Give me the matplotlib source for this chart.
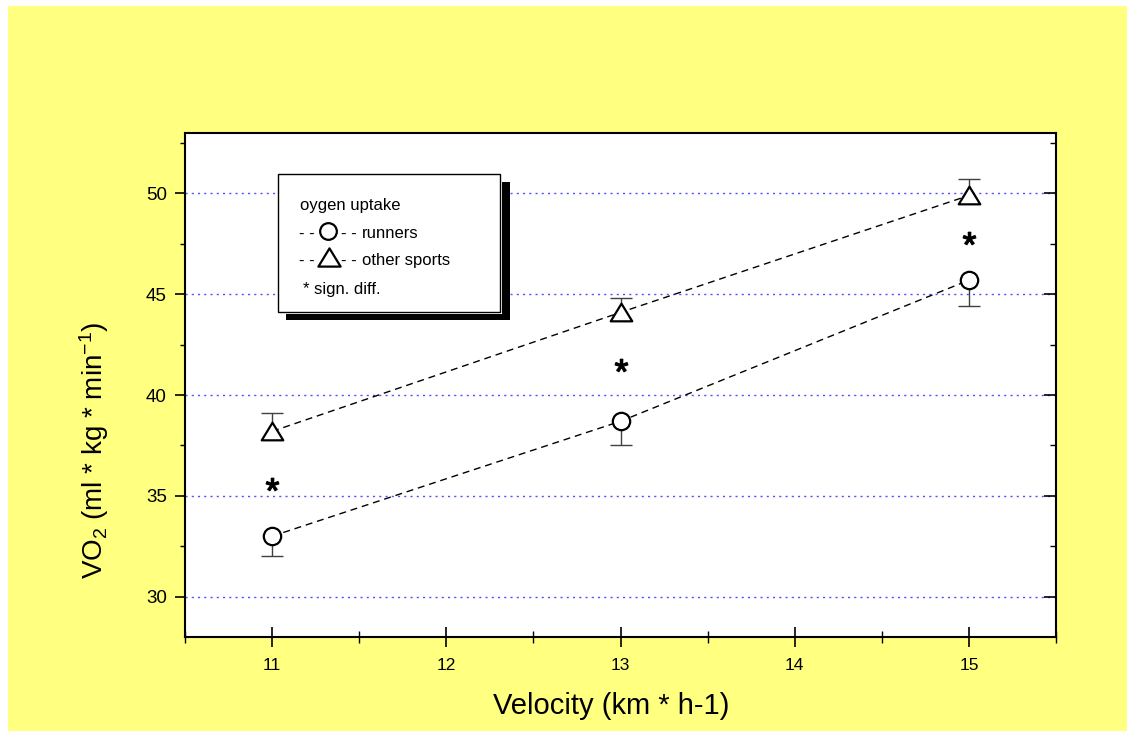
import matplotlib
matplotlib.use('Agg')
import matplotlib.pyplot as plt
from matplotlib.patches import Rectangle
from matplotlib.path import Path
from matplotlib.ticker import MultipleLocator

plt.rcParams['font.family'] = ['Liberation Sans', 'DejaVu Sans']
plt.rcParams['mathtext.fontset'] = 'custom'
plt.rcParams['mathtext.rm'] = 'Liberation Sans'
plt.rcParams['mathtext.it'] = 'Liberation Sans:italic'

# 摄氧量数据
velocity = [11, 13, 15]
runners = [33.0, 38.7, 45.7]
runners_err = [1.0, 1.2, 1.3]
others = [38.2, 44.1, 49.9]
others_err = [0.9, 0.7, 0.8]
sig_y = [35.6, 41.5, 47.8]

W, H = 1127, 731
yellow = '#FFFF80'
tri = Path([(-1, -0.82), (1, -0.82), (0, 0.82), (0, 0)], closed=True)


def fx(x):
    return x / W


def fy(y):
    return 1 - y / H


fig = plt.figure(figsize=(W / 100, H / 100), dpi=100, facecolor='white')
fig.patches.append(Rectangle((fx(8), 0), 1 - fx(8), fy(6), transform=fig.transFigure,
                             facecolor=yellow, edgecolor='none', zorder=-10))

ax = fig.add_axes([fx(185), fy(637), (1056 - 185) / W, (637 - 133) / H])
ax.set_facecolor('white')
ax.set_xlim(10.5, 15.5)
ax.set_ylim(28, 53)

# 水平网格线
for g in [30, 35, 40, 45, 50]:
    ax.axhline(g, color='#5050ff', lw=1.0, ls=(0, (1.5, 3)), zorder=1)

# 误差棒：跑步者只画下半部分，其他运动只画上半部分
r_lo = [v - e for v, e in zip(runners, runners_err)]
o_hi = [v + e for v, e in zip(others, others_err)]
ax.vlines(velocity, r_lo, runners, color='#404040', lw=1.0, zorder=2)
ax.vlines(velocity, others, o_hi, color='#404040', lw=1.0, zorder=2)
ax.plot(velocity, r_lo, ls='none', marker='_', markersize=16, markeredgewidth=1.0,
        color='#404040', zorder=2)
ax.plot(velocity, o_hi, ls='none', marker='_', markersize=16, markeredgewidth=1.0,
        color='#404040', zorder=2)

ax.plot(velocity, runners, color='black', lw=1.0, ls=(0, (5, 3.5)), marker='o',
        markersize=12.5, markerfacecolor='white', markeredgecolor='black',
        markeredgewidth=1.6, zorder=3)
ax.plot(velocity, others, color='black', lw=1.0, ls=(0, (5, 3.5)), marker=tri,
        markersize=15.5, markerfacecolor='white', markeredgecolor='black',
        markeredgewidth=1.6, zorder=3)
ax.plot(velocity, sig_y, ls='none', marker='$*$', markersize=9, color='black', zorder=3)

# 坐标轴
for s in ax.spines.values():
    s.set_linewidth(1.5)
ax.xaxis.set_major_locator(MultipleLocator(1))
ax.xaxis.set_minor_locator(MultipleLocator(0.5))
ax.yaxis.set_major_locator(MultipleLocator(5))
ax.yaxis.set_minor_locator(MultipleLocator(2.5))
ax.tick_params(axis='x', which='major', direction='inout', length=14, width=1.2,
               top=False, labelsize=12.5, pad=8)
ax.tick_params(axis='x', which='minor', direction='inout', length=8, width=1.0, top=False)
ax.tick_params(axis='y', which='major', direction='out', length=7, width=1.2,
               right=False, labelsize=13.5, pad=6)
ax.tick_params(axis='y', which='minor', direction='out', length=3.6, width=1.0, right=False)

ax2 = ax.twinx()
ax2.set_ylim(ax.get_ylim())
ax2.yaxis.set_major_locator(MultipleLocator(5))
ax2.yaxis.set_minor_locator(MultipleLocator(2.5))
ax2.tick_params(axis='y', which='major', direction='in', length=8.5, width=1.2, labelright=False)
ax2.tick_params(axis='y', which='minor', direction='in', length=4.3, width=1.0)
for s in ax2.spines.values():
    s.set_visible(False)

ax.set_xlabel('Velocity (km * h-1)', fontsize=21)
ax.xaxis.set_label_coords(0.489, -0.109)
ax.set_ylabel(r'VO$_\mathregular{2}$ (ml * kg * min$^\mathregular{-1}$)', fontsize=20)
ax.yaxis.set_label_coords(-0.085, 0.371)

# 图例框（带阴影）
ax2.add_patch(Rectangle((fx(286), fy(320)), (510 - 286) / W, (320 - 182) / H,
                        transform=fig.transFigure, facecolor='black', edgecolor='none',
                        clip_on=False, zorder=5))
ax2.add_patch(Rectangle((fx(278), fy(314)), (502 - 278) / W, (314 - 174) / H,
                        transform=fig.transFigure, facecolor='white', edgecolor='none',
                        clip_on=False, zorder=6))
ax2.add_patch(Rectangle((fx(278), fy(312)), (500 - 278) / W, (312 - 174) / H,
                        transform=fig.transFigure, facecolor='white', edgecolor='black',
                        lw=1.0, clip_on=False, zorder=7))

txt = dict(transform=fig.transFigure, fontsize=12, va='baseline', zorder=8)
ax2.text(fx(300), fy(210), 'oygen uptake', **txt)
ax2.text(fx(299), fy(238), '- -', **txt)
ax2.text(fx(341), fy(238), '- -', **txt)
ax2.text(fx(362), fy(238), 'runners', **txt)
ax2.text(fx(299), fy(265), '- -', **txt)
ax2.text(fx(341), fy(265), '- -', **txt)
ax2.text(fx(362), fy(265), 'other sports', **txt)
ax2.text(fx(303), fy(294), '* sign. diff.', **txt)
ax2.plot([fx(328)], [fy(231)], marker='o', markersize=12, markerfacecolor='white',
         markeredgecolor='black', markeredgewidth=1.6, transform=fig.transFigure,
         clip_on=False, zorder=8)
ax2.plot([fx(329)], [fy(257)], marker=tri, markersize=16, markerfacecolor='white',
         markeredgecolor='black', markeredgewidth=1.6, transform=fig.transFigure,
         clip_on=False, zorder=8)

fig.savefig('out.png', dpi=100, facecolor='white')
